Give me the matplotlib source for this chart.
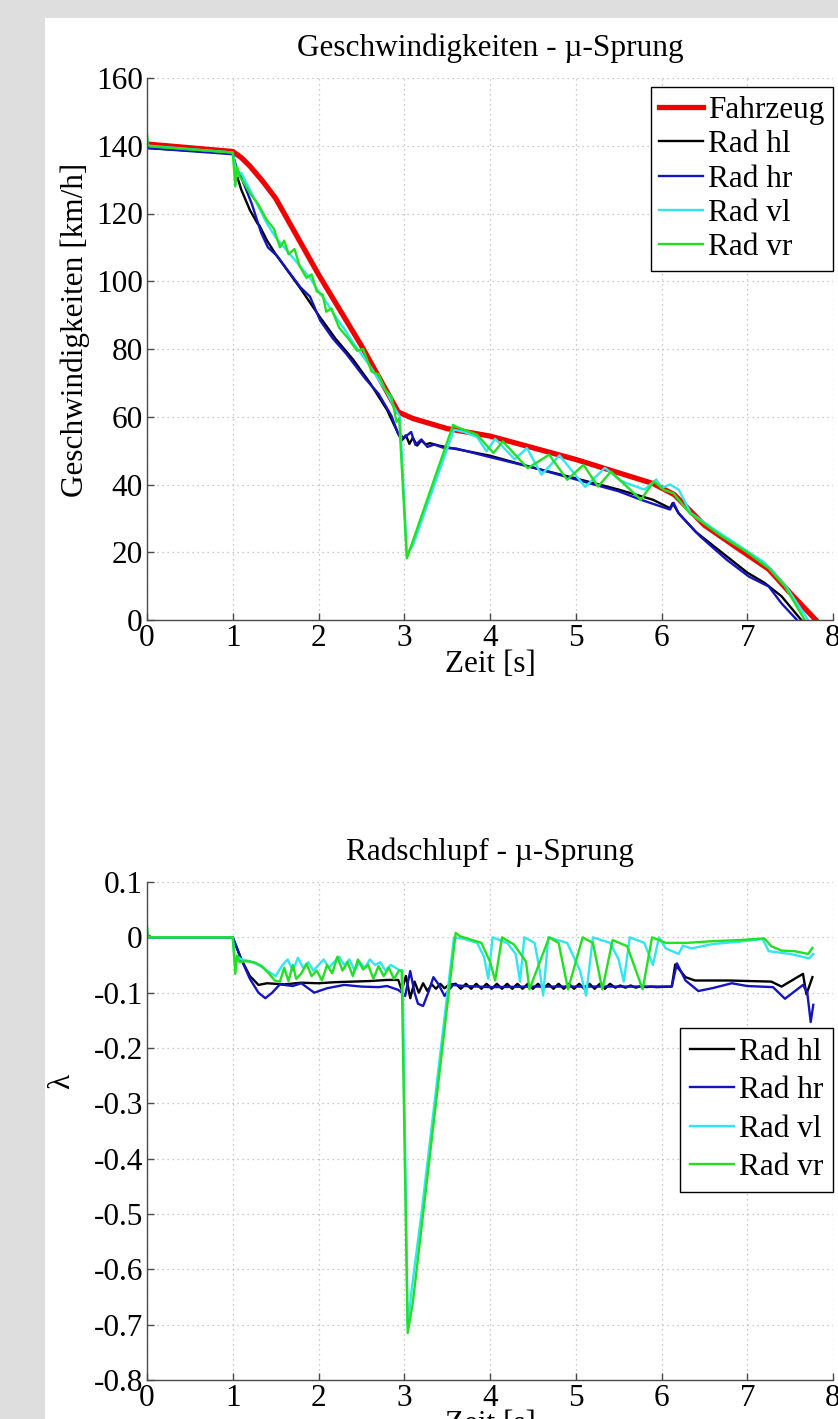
import matplotlib
matplotlib.use("Agg")
import matplotlib.pyplot as plt
from matplotlib.patches import Rectangle
from matplotlib.ticker import FuncFormatter

# ---- data: speeds [km/h] ----
t_fz = [0, 1.0, 1.1, 1.2, 1.35, 1.5, 2.0, 2.5, 2.93, 3.1, 3.5, 4.0, 5.0, 5.9, 6.15, 6.5, 6.9, 7.25, 7.5, 7.8]
v_fz = [140.5, 138.3, 136.5, 134, 129.5, 124.5, 102, 81, 61.4, 59.5, 56.5, 54.3, 47.4, 40.3, 37, 28, 21, 15, 8, 0]

t_hl = [0, 0.02, 1.0, 1.05, 1.1, 1.2, 1.29, 1.31, 1.4, 1.5, 1.6, 1.8, 2.0, 2.2, 2.4, 2.6, 2.8, 2.93, 2.97,
        3.02, 3.06, 3.1, 3.15, 3.2, 3.25, 3.3, 3.4, 3.5, 3.6, 3.8, 4.0, 4.5, 5.0, 5.5, 5.9, 6.1, 6.13, 6.2,
        6.4, 6.6, 6.8, 7.0, 7.2, 7.4, 7.63]
v_hl = [140, 139.3, 137.8, 131, 127, 121, 117, 116.5, 112, 108, 104.5, 97.5, 90, 83, 77, 70, 62, 55, 53,
        54.5, 52, 53.8, 51.5, 53, 51.8, 52.2, 51.5, 51, 50.5, 49.5, 48.5, 45, 41.8, 38.5, 35.5, 33, 34.5, 31.5,
        26, 22, 18, 14, 11, 7, 0]

t_hr = [0, 0.02, 1.0, 1.05, 1.1, 1.22, 1.33, 1.41, 1.52, 1.63, 1.79, 1.9, 2.02, 2.17, 2.32, 2.55, 2.7, 2.85,
        2.93, 3.0, 3.08, 3.13, 3.2, 3.27, 3.35, 3.46, 3.61, 3.95, 4.5, 5.0, 5.5, 5.76, 6.1, 6.14, 6.2, 6.45,
        6.76, 7.02, 7.25, 7.4, 7.58]
v_hr = [140, 139.3, 137.5, 133, 130.6, 123, 114.4, 110, 107.4, 103.6, 98.2, 95.5, 88.4, 83, 78.7, 71.1, 66.8, 60.3,
        54.9, 53.8, 55.5, 51.7, 53.3, 51.1, 51.8, 50.8, 50.6, 48.4, 45, 41.5, 38, 35.5, 32.6, 34.6, 31.5, 24.7,
        17.8, 12.8, 9.9, 4.9, 0]

t_vl = [0, 0.02, 1.0, 1.05, 1.1, 1.2, 1.3, 1.4, 1.5, 1.6, 1.7, 1.8, 1.9, 2.0, 2.1, 2.2, 2.3, 2.4, 2.5, 2.6,
        2.7, 2.8, 2.9, 2.95, 3.03, 3.1, 3.58, 3.7, 3.85, 3.96, 4.06, 4.29, 4.43, 4.6, 4.81, 5.11, 5.34, 5.53,
        5.8, 5.94, 6.0, 6.1, 6.2, 6.34, 6.6, 6.9, 7.2, 7.45, 7.71]
v_vl = [141, 140, 138, 131, 132, 127, 122, 117, 113, 110, 107, 104, 101, 97, 93.5, 89.5, 86, 82, 78.5, 75,
        71, 67, 62, 60, 19.5, 22, 56.2, 55.5, 54, 49.8, 53.5, 47.4, 50.8, 42.9, 48.6, 39.3, 44.9, 41,
        38.5, 41.5, 39, 40, 38.5, 31.6, 27, 22, 17, 10, 0]

t_vr = [0, 0.01, 0.03, 1.0, 1.03, 1.05, 1.08, 1.12, 1.2, 1.29, 1.4, 1.48, 1.55, 1.6, 1.65, 1.72, 1.78, 1.86,
        1.92, 1.98, 2.05, 2.09, 2.15, 2.24, 2.35, 2.45, 2.52, 2.62, 2.7, 2.78, 2.85, 2.91, 2.94, 3.03, 3.57,
        3.6, 3.85, 4.04, 4.15, 4.44, 4.69, 4.9, 5.09, 5.26, 5.41, 5.76, 5.91, 6.03, 6.14, 6.33, 6.71, 7.0,
        7.25, 7.44, 7.67]
v_vr = [143.5, 140.3, 139.8, 138, 128, 133.8, 131, 129.5, 126, 123, 118, 115.5, 110, 112, 108, 109.5, 104.5, 101,
        102, 97, 96, 91, 92, 86.3, 83, 79.5, 80, 73.3, 72.5, 67.9, 66, 58.5, 59.5, 18.2, 57.6,
        57.1, 54.7, 49.3, 52.7, 44.8, 48.8, 41.4, 45.8, 39.4, 43.8, 35.5, 40.9, 38.4, 37.4, 31.5, 24.6, 20,
        15.3, 9.9, 0]

# ---- data: wheel slip lambda ----
ts_hl = [0, 1.0, 1.1, 1.2, 1.3, 1.4, 1.6, 1.8, 2.0, 2.2, 2.4, 2.6, 2.8, 2.93, 2.97, 3.02, 3.07, 3.12, 3.17,
         3.22, 3.27, 3.32, 3.37, 3.42, 3.47, 3.52,
         3.60, 3.66, 3.72, 3.78, 3.84, 3.90, 3.96, 4.02, 4.08, 4.14, 4.20, 4.26, 4.32, 4.38, 4.44, 4.50,
         4.56, 4.62, 4.68, 4.74, 4.80, 4.86, 4.92, 4.98, 5.04, 5.10, 5.16, 5.22, 5.28, 5.34, 5.40, 5.46,
         5.52, 5.58, 5.64, 5.70, 5.76, 5.82, 5.88, 5.94,
         6.12, 6.16, 6.28, 6.39, 6.78, 7.28, 7.4, 7.65, 7.69, 7.76]
s_hl = [0, 0, -0.04, -0.07, -0.086, -0.083, -0.085, -0.082, -0.083, -0.081, -0.08, -0.079, -0.077, -0.077, -0.095,
        -0.07, -0.11, -0.08, -0.1, -0.083, -0.097, -0.085, -0.093, -0.084, -0.092, -0.086,
        -0.084, -0.093, -0.084, -0.093, -0.084, -0.093, -0.084, -0.093, -0.084, -0.093, -0.084, -0.093,
        -0.084, -0.093, -0.084, -0.093, -0.084, -0.093, -0.084, -0.093, -0.084, -0.093, -0.084, -0.093,
        -0.084, -0.093, -0.084, -0.093, -0.084, -0.093, -0.084, -0.091, -0.087, -0.091, -0.087, -0.091,
        -0.088, -0.090, -0.089, -0.090,
        -0.089, -0.049, -0.072, -0.078, -0.078, -0.08, -0.089, -0.066, -0.103, -0.072]

ts_hr = [0, 0.02, 0.05, 1.0, 1.1, 1.2, 1.3, 1.38, 1.46, 1.55, 1.7, 1.8, 1.95, 2.1, 2.3, 2.5, 2.7, 2.8, 2.93,
         2.97, 3.01, 3.07, 3.12, 3.16, 3.22, 3.28, 3.34, 3.4, 3.47, 3.52, 3.57, 3.7, 4.0, 4.5, 5.0, 5.5,
         6.12, 6.18, 6.28, 6.43, 6.59, 6.82, 7.0, 7.3, 7.44, 7.65, 7.7, 7.74, 7.77]
s_hr = [0.005, 0.003, 0, 0, -0.04, -0.075, -0.1, -0.11, -0.1, -0.085, -0.088, -0.083, -0.1, -0.092, -0.086,
        -0.089, -0.09, -0.088, -0.095, -0.1, -0.106, -0.061, -0.1, -0.12, -0.124, -0.1, -0.072, -0.085, -0.106,
        -0.095, -0.086, -0.088, -0.09, -0.089, -0.089, -0.089, -0.089, -0.047, -0.078, -0.097, -0.092, -0.083,
        -0.088, -0.09, -0.111, -0.086, -0.1, -0.153, -0.122]

ts_vl = [0, 0.02, 1.0, 1.03, 1.06, 1.1, 1.2, 1.3, 1.4, 1.5, 1.58, 1.64, 1.7, 1.76, 1.82, 1.88, 1.94, 2.0,
         2.06, 2.12, 2.18, 2.24, 2.3, 2.36, 2.42, 2.48, 2.54, 2.6, 2.66, 2.72, 2.78, 2.84, 2.9, 2.95, 2.98,
         3.04, 3.1, 3.2, 3.58, 3.7, 3.85, 3.93, 3.98, 4.03, 4.2, 4.3, 4.35, 4.4, 4.52, 4.58, 4.62, 4.68,
         4.9, 5.05, 5.12, 5.2, 5.4, 5.5, 5.56, 5.63, 5.8, 5.9, 5.97, 6.05, 6.2, 6.25, 6.35, 6.6, 6.9, 7.18,
         7.25, 7.5, 7.72, 7.77]
s_vl = [0.01, 0, 0, -0.05, -0.035, -0.04, -0.043, -0.05, -0.06, -0.07, -0.05, -0.04, -0.06, -0.037, -0.055,
        -0.045, -0.06, -0.05, -0.04, -0.055, -0.045, -0.035, -0.05, -0.04, -0.06, -0.045, -0.055, -0.04, -0.05,
        -0.045, -0.06, -0.05, -0.055, -0.06, -0.06, -0.7, -0.62, -0.5, 0.0, -0.003, -0.01, -0.035, -0.075,
        0.0, -0.01, -0.03, -0.08, 0.0, -0.01, -0.06, -0.105, 0.0, -0.01, -0.06, -0.105, 0.0, -0.01, -0.04,
        -0.08, 0.0, -0.01, -0.05, 0.0, -0.02, -0.03, -0.015, -0.02, -0.012, -0.008, -0.003, -0.025, -0.03,
        -0.038, -0.03]

ts_vr = [0, 0.01, 0.03, 1.0, 1.03, 1.05, 1.08, 1.15, 1.25, 1.34, 1.42, 1.49, 1.55, 1.6, 1.65, 1.7, 1.74,
         1.8, 1.86, 1.92, 1.98, 2.04, 2.1, 2.16, 2.22, 2.28, 2.34, 2.4, 2.46, 2.52, 2.58, 2.64, 2.7, 2.76,
         2.82, 2.88, 2.94, 2.97, 3.04, 3.1, 3.6, 3.65, 3.9, 4.0, 4.06, 4.14, 4.28, 4.42, 4.46, 4.69, 4.8,
         4.91, 5.08, 5.2, 5.31, 5.43, 5.6, 5.78, 5.89, 6.05, 6.3, 6.59, 6.9, 7.2, 7.28, 7.4, 7.55, 7.71, 7.76]
s_vr = [0.02, 0.003, 0, 0, -0.066, -0.033, -0.045, -0.043, -0.045, -0.052, -0.065, -0.078, -0.08, -0.055,
        -0.079, -0.05, -0.075, -0.065, -0.048, -0.07, -0.06, -0.078, -0.05, -0.065, -0.035, -0.06, -0.045,
        -0.07, -0.04, -0.058, -0.05, -0.075, -0.052, -0.07, -0.055, -0.075, -0.06, -0.06, -0.715, -0.66,
        0.008, 0.002, -0.01, -0.044, -0.078, 0.0, -0.013, -0.044, -0.094, 0.0, -0.01, -0.094, 0.0, -0.01,
        -0.094, -0.005, -0.016, -0.094, 0.0, -0.01, -0.01, -0.007, -0.005, -0.002, -0.016, -0.024, -0.025,
        -0.03, -0.019]

x_ticks = [0, 1, 2, 3, 4, 5, 6, 7, 8]
v_ticks = [0, 20, 40, 60, 80, 100, 120, 140, 160]
s_ticks = [-0.8, -0.7, -0.6, -0.5, -0.4, -0.3, -0.2, -0.1, 0, 0.1]

labels_up = ["Fahrzeug", "Rad hl", "Rad hr", "Rad vl", "Rad vr"]
labels_lo = ["Rad hl", "Rad hr", "Rad vl", "Rad vr"]

c_red, c_black, c_blue, c_cyan, c_green = "#f00000", "#000000", "#1414c0", "#30e6f0", "#22e022"

FS = 22.5
plt.rcParams['font.family'] = ['Liberation Serif', 'DejaVu Serif']
plt.rcParams['font.size'] = FS
plt.rcParams['axes.unicode_minus'] = False

fig = plt.figure(figsize=(8.38, 14.19), dpi=100, facecolor="#dedede")
# white print area, gray margin top/left
fig.add_artist(Rectangle((45 / 838, 0), 1, 1 - 18 / 1419, transform=fig.transFigure,
                         facecolor="white", edgecolor="none", zorder=-10))

ax1 = fig.add_axes([147 / 838, 1 - 620 / 1419, 686 / 838, 542 / 1419])
ax2 = fig.add_axes([147 / 838, 1 - 1380 / 1419, 686 / 838, 498 / 1419])


def style(ax):
    ax.set_facecolor("none")
    ax.grid(True, color="#b8b8b8", linestyle=(0, (1, 3)), linewidth=0.9)
    ax.set_axisbelow(True)
    for s in ["top", "right"]:
        ax.spines[s].set_visible(False)
    for s in ["left", "bottom"]:
        ax.spines[s].set_color("#4a4a4a")
        ax.spines[s].set_linewidth(1.0)
    ax.tick_params(direction="in", length=5, width=1, color="#4a4a4a", labelsize=FS, pad=3)
    ax.set_xlim(0, 8)
    ax.set_xticks(x_ticks)
    ax.set_xlabel("Zeit [s]", labelpad=-2)


style(ax1)
lw = 1.7
ax1.plot(t_fz, v_fz, color=c_red, lw=3.8, label=labels_up[0])
ax1.plot(t_hl, v_hl, color=c_black, lw=lw, label=labels_up[1])
ax1.plot(t_hr, v_hr, color=c_blue, lw=lw, label=labels_up[2])
ax1.plot(t_vl, v_vl, color=c_cyan, lw=lw, label=labels_up[3])
ax1.plot(t_vr, v_vr, color=c_green, lw=lw, label=labels_up[4])
ax1.set_ylim(0, 160)
ax1.set_yticks(v_ticks)
ax1.set_ylabel("Geschwindigkeiten [km/h]")
ax1.yaxis.set_label_coords(-0.083, 0.535)
ax1.set_title("Geschwindigkeiten - \u00b5-Sprung", fontsize=FS, pad=16)
leg1 = ax1.legend(loc="upper right", bbox_to_anchor=(1.0, 0.983), fontsize=FS, frameon=True, fancybox=False,
                  edgecolor="black", framealpha=1, handlelength=1.4, handletextpad=0.15,
                  labelspacing=0.17, borderpad=0.28, borderaxespad=0)
leg1.get_frame().set_linewidth(1.0)

style(ax2)
ax2.plot(ts_hl, s_hl, color=c_black, lw=lw, label=labels_lo[0])
ax2.plot(ts_hr, s_hr, color=c_blue, lw=lw, label=labels_lo[1])
ax2.plot(ts_vl, s_vl, color=c_cyan, lw=lw, label=labels_lo[2])
ax2.plot(ts_vr, s_vr, color=c_green, lw=lw, label=labels_lo[3])
ax2.set_ylim(-0.8, 0.1)
ax2.set_yticks(s_ticks)
ax2.yaxis.set_major_formatter(FuncFormatter(lambda v, p: "%g" % round(v, 2)))
ax2.set_ylabel("\u03bb")
ax2.yaxis.set_label_coords(-0.103, 0.6)
ax2.set_title("Radschlupf - \u00b5-Sprung", fontsize=FS, pad=16)
leg2 = ax2.legend(loc="upper right", bbox_to_anchor=(1.0, 0.707), fontsize=FS, frameon=True, fancybox=False,
                  edgecolor="black", framealpha=1, handlelength=1.4, handletextpad=0.15,
                  labelspacing=0.3, borderpad=0.32, borderaxespad=0)
leg2.get_frame().set_linewidth(1.0)

fig.savefig("out.png", dpi=100, facecolor=fig.get_facecolor())
